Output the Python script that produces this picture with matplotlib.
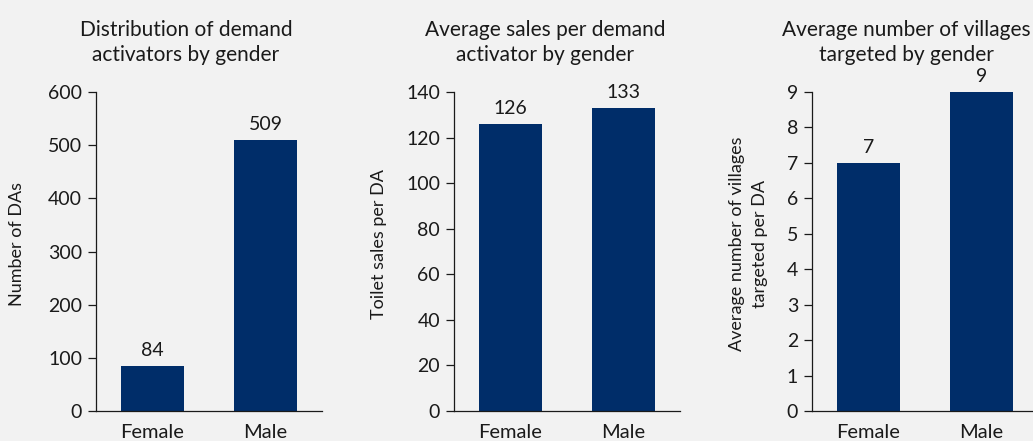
import matplotlib.pyplot as plt

plt.rcParams['font.family'] = ['Lato', 'DejaVu Sans']

genders = ['Female', 'Male']
da_counts = [84, 509]
sales_per_da = [126, 133]
villages_per_da = [7, 9]

titles = ['Distribution of demand\nactivators by gender',
          'Average sales per demand\nactivator by gender',
          'Average number of villages\ntargeted by gender']
ylabels = ['Number of DAs', 'Toilet sales per DA',
           'Average number of villages\ntargeted per DA']
yticks = [range(0, 601, 100), range(0, 141, 20), range(0, 10, 1)]
series = [da_counts, sales_per_da, villages_per_da]

BG = '#f2f2f2'
BAR = '#002d69'
TXT = '#1a1a1a'

fig = plt.figure(figsize=(10.33, 4.41), dpi=100, facecolor=BG)
lefts = [0.0929, 0.4395, 0.786]
label_x = [-0.314, -0.296, -0.195]
title_x = [0.398, 0.403, 0.416]

for i in range(3):
    ax = fig.add_axes([lefts[i], 0.068, 0.2188, 0.7234], facecolor=BG)
    bars = ax.bar(genders, series[i], width=0.55, color=BAR)
    ax.set_xlim(-0.5, 1.5)
    ax.set_ylim(yticks[i][0], yticks[i][-1])
    ax.set_yticks(list(yticks[i]))
    for s in ['top', 'right']:
        ax.spines[s].set_visible(False)
    for s in ['left', 'bottom']:
        ax.spines[s].set_color(TXT)
        ax.spines[s].set_linewidth(0.9)
    ax.tick_params(axis='y', length=6, width=0.9, color=TXT, labelsize=14,
                   labelcolor=TXT, pad=4)
    ax.tick_params(axis='x', length=0, labelsize=14.5, labelcolor=TXT, pad=9)
    ax.bar_label(bars, labels=[str(v) for v in series[i]], padding=5,
                 fontsize=14, color=TXT)
    ax.set_title(titles[i], x=title_x[i], pad=22, fontsize=15, color=TXT,
                 linespacing=1.35)
    ax.set_ylabel(ylabels[i], fontsize=13, color=TXT, linespacing=1.5)
    ax.yaxis.set_label_coords(label_x[i], 0.523)
    for b in bars:
        b.set_clip_on(False)

fig.savefig('out.png', dpi=100, facecolor=BG)
